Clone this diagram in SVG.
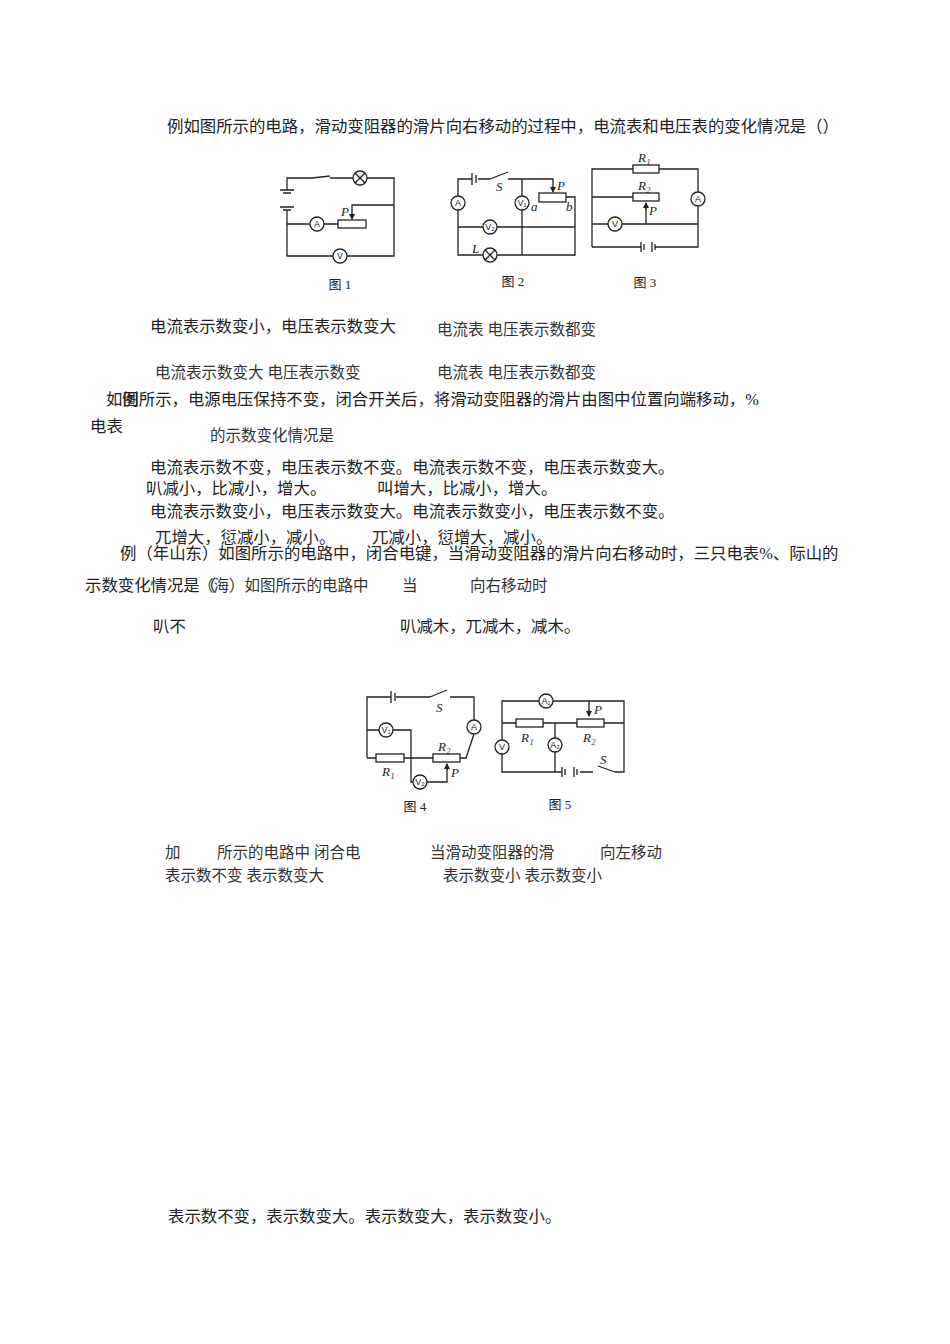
<svg xmlns="http://www.w3.org/2000/svg" width="950" height="1344" viewBox="0 0 950 1344">
<style>
text{font-family:"Liberation Serif","Noto Sans CJK SC",serif;fill:#222}
.t{font-size:16.4px}.s{font-size:15.5px;fill:#333}
.w{fill:none;stroke:#222;stroke-width:1.3}
.m{fill:#fff;stroke:#222;stroke-width:1.3}
.ml{font-family:"Liberation Sans",sans-serif;font-size:9px;text-anchor:middle}
.lb{font-style:italic;font-size:13px}
.cap{font-size:13px;text-anchor:middle}
</style>
<defs><marker id="ar" markerWidth="6" markerHeight="6" refX="5" refY="3" orient="auto"><path d="M0,0L6,3L0,6z" fill="#222"/></marker></defs>
<rect width="950" height="1344" fill="#fff"/>
<g id="texts">
<text class="t" x="167" y="132">例如图所示的电路，滑动变阻器的滑片向右移动的过程中，电流表和电压表的变化情况是（）</text>
<text class="t" x="150" y="332">电流表示数变小，电压表示数变大</text>
<text class="s" x="437" y="335">电流表 电压表示数都变</text>
<text class="s" x="155" y="378">电流表示数变大 电压表示数变</text>
<text class="s" x="437" y="378">电流表 电压表示数都变</text>
<text class="t" x="106" y="405">如图所示，电源电压保持不变，闭合开关后，将滑动变阻器的滑片由图中位置向端移动，%</text>
<text class="t" x="122" y="405">例</text>
<text class="t" x="90" y="432">电表</text>
<text class="s" x="210" y="441">的示数变化情况是</text>
<text class="t" x="150" y="473">电流表示数不变，电压表示数不变。电流表示数不变，电压表示数变大。</text>
<text class="t" x="146" y="494">叭减小，比减小，增大。</text>
<text class="t" x="377" y="494">叫增大，比减小，增大。</text>
<text class="t" x="150" y="517">电流表示数变小，电压表示数变大。电流表示数变小，电压表示数不变。</text>
<text class="t" x="155" y="543">兀增大，愆减小，减小。</text>
<text class="t" x="372" y="543">兀减小，愆增大，减小。</text>
<text class="t" x="120" y="559">例（年山东）如图所示的电路中，闭合电键，当滑动变阻器的滑片向右移动时，三只电表%、际山的</text>
<text class="t" x="85" y="591">示数变化情况是（</text>
<text class="s" x="198" y="591">（海）如图所示的电路中</text>
<text class="s" x="402" y="591">当</text>
<text class="s" x="470" y="591">向右移动时</text>
<text class="t" x="153" y="632">叭不</text>
<text class="t" x="400" y="632">叭减木，兀减木，减木。</text>
<text class="s" x="165" y="858">加</text>
<text class="s" x="217" y="858">所示的电路中 闭合电</text>
<text class="s" x="430" y="858">当滑动变阻器的滑</text>
<text class="s" x="600" y="858">向左移动</text>
<text class="s" x="165" y="881">表示数不变 表示数变大</text>
<text class="s" x="443" y="881">表示数变小 表示数变小</text>
<text class="t" x="168" y="1222">表示数不变，表示数变大。表示数变大，表示数变小。</text>
</g>
<g id="connectors">
<path class="w" d="M287,190V178H312M330,176L312,178M330,178H353M367,178H394V256H347M333,256H287V210M287,224H310M324,224H338M394,205H352V218"/>
<path class="w" d="M280,190H294M283,193H291M280,207H294M283,210H291" />
<path class="w" d="M458,196V179H472M478,179H490M490,179L508,172M508,179H553V190M566,197H575V255H497M483,255H458V210M458,227H483M497,227H575M522,179V196M522,210V255"/>
<path class="w" d="M472,173V185M476,175V183"/>
<path class="w" d="M592,247V169H633M659,169H698V192M698,206V247H655M641,247H592M592,197H633M592,224H608M622,224H698M646,224V203"/>
<path class="w" d="M641,242V252M644,244V250M652,242V252M655,244V250"/>
<path class="w" d="M367,758V697H391M396,697H430M430,697L447,690M450,697H474V720M474,734L466,758H460M367,730H379M393,730H411V782H413M367,758H376M404,758H433M427,782H447V764"/>
<path class="w" d="M391,691V703M395,693V701"/>
<path class="w" d="M502,740V701H539M553,701H624V772H615M615,772L598,766M593,772H580M502,754V772H562M502,723H516M543,723H577M604,723H624M555,723V738M555,752V772M589,701V716"/>
<path class="w" d="M562,767V777M565,769V775M574,767V777M577,769V775"/>
<path d="M589,710L589,716" stroke="#222" marker-end="url(#ar)"/>
<path d="M646,210L646,203" stroke="#222" marker-end="url(#ar)"/>
<path d="M447,770L447,764" stroke="#222" marker-end="url(#ar)"/>
<path d="M553,186L553,192" stroke="#222" marker-end="url(#ar)"/>
<path d="M352,213L352,219" stroke="#222" marker-end="url(#ar)"/>
</g>
<g id="fig1">
<circle class="m" cx="360" cy="178" r="7"/><path class="w" d="M355,173L365,183M365,173L355,183"/>
<rect class="m" x="338" y="220" width="28" height="8"/>
<circle class="m" cx="317" cy="224" r="7"/><text class="ml" x="317" y="227">A</text>
<circle class="m" cx="340" cy="256" r="7"/><text class="ml" x="340" y="259">V</text>
<text class="lb" x="341" y="216">P</text>
<text class="cap" x="340" y="289">图 1</text>
</g>
<g id="fig2">
<rect class="m" x="539" y="193" width="27" height="9"/>
<circle class="m" cx="458" cy="203" r="7"/><text class="ml" x="458" y="206">A</text>
<circle class="m" cx="522" cy="203" r="7"/><text class="ml" x="522" y="206">V₁</text>
<circle class="m" cx="490" cy="227" r="7"/><text class="ml" x="490" y="230">V₂</text>
<circle class="m" cx="490" cy="255" r="7"/><path class="w" d="M485,250L495,260M495,250L485,260"/>
<text class="lb" x="496" y="191">S</text><text class="lb" x="557" y="190">P</text>
<text class="lb" x="531" y="211">a</text><text class="lb" x="566" y="211">b</text>
<text class="lb" x="472" y="253">L</text>
<text class="cap" x="513" y="286">图 2</text>
</g>
<g id="fig3">
<rect class="m" x="633" y="165" width="26" height="8"/>
<rect class="m" x="633" y="193" width="26" height="8"/>
<circle class="m" cx="698" cy="199" r="7"/><text class="ml" x="698" y="202">A</text>
<circle class="m" cx="615" cy="224" r="7"/><text class="ml" x="615" y="227">V</text>
<text class="lb" x="638" y="162">R₁</text><text class="lb" x="638" y="190">R₂</text>
<text class="lb" x="649" y="215">P</text>
<text class="cap" x="645" y="287">图 3</text>
</g>
<g id="fig4">
<circle class="m" cx="474" cy="727" r="7"/><text class="ml" x="474" y="730">A</text>
<circle class="m" cx="386" cy="730" r="7"/><text class="ml" x="386" y="733">V₁</text>
<rect class="m" x="376" y="754" width="28" height="8"/>
<rect class="m" x="433" y="754" width="27" height="8"/>
<circle class="m" cx="420" cy="782" r="7"/><text class="ml" x="420" y="785">V₂</text>
<text class="lb" x="436" y="712">S</text>
<text class="lb" x="382" y="776">R₁</text><text class="lb" x="438" y="751">R₂</text>
<text class="lb" x="451" y="777">P</text>
<text class="cap" x="415" y="811">图 4</text>
</g>
<g id="fig5">
<circle class="m" cx="546" cy="701" r="7"/><text class="ml" x="546" y="704">A₁</text>
<rect class="m" x="516" y="719" width="27" height="8"/>
<rect class="m" x="577" y="719" width="27" height="8"/>
<circle class="m" cx="555" cy="745" r="7"/><text class="ml" x="555" y="748">A₂</text>
<circle class="m" cx="502" cy="747" r="7"/><text class="ml" x="502" y="750">V</text>
<text class="lb" x="594" y="714">P</text>
<text class="lb" x="521" y="742">R₁</text><text class="lb" x="583" y="742">R₂</text>
<text class="lb" x="600" y="764">S</text>
<text class="cap" x="560" y="809">图 5</text>
</g>
</svg>
